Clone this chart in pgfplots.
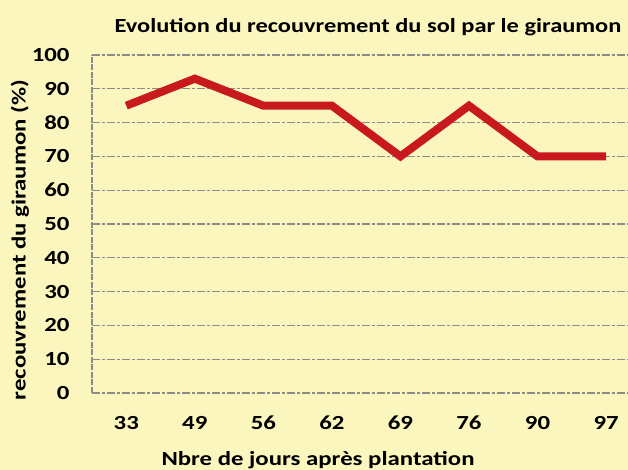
\documentclass[border=0pt]{standalone}
\usepackage{pgfplots}
\pgfplotsset{compat=1.18}
\usepackage{fontspec}
\setmainfont{Carlito}
\newfontfamily\wide[FakeStretch=1.24]{Carlito}
\newfontfamily\widetitle[FakeStretch=1.22]{Carlito}
\definecolor{bgyellow}{RGB}{251,246,190}
\definecolor{linered}{RGB}{200,26,30}
\definecolor{gridgray}{RGB}{140,140,140}
\begin{document}
\begin{tikzpicture}
\fill[bgyellow] (0,0) rectangle (628pt,470pt);
\path[use as bounding box] (0,0) rectangle (628pt,470pt);
\begin{scope}
\clip (0,0) rectangle (628pt,470pt);
\begin{axis}[
  at={(92pt,77pt)}, anchor=south west,
  scale only axis, width=536pt, height=338pt,
  xmin=-0.5, xmax=7.32, ymin=0, ymax=100,
  axis lines*=left,
  x axis line style={draw=none},
  y axis line style={draw=gridgray, line width=1.2pt, dash pattern=on 6pt off 1.5pt},
  xtick={0,...,7},
  xticklabels={33,49,56,62,69,76,90,97},
  ytick={0,10,...,100},
  major tick length=0pt,
  ymajorgrids,
  grid style={draw=gridgray, line width=1.3pt, dash pattern=on 8pt off 2pt on 3pt off 2pt},
  tick label style={font=\wide\fontsize{20}{22}\selectfont\bfseries},
  /pgf/number format/assume math mode=true,
  yticklabel style={anchor=east, xshift=-19pt},
  xticklabel style={anchor=center, yshift=-30pt},
  clip=false,
]
\addplot[linered, line width=8pt, line join=miter] coordinates {
  (0,85) (1,93) (2,85) (3,85) (4,70) (5,85) (6,70) (7,70)
};
\end{axis}
\end{scope}
\node[font=\widetitle\fontsize{20}{22}\selectfont\bfseries] at (368pt,443pt) {Evolution du recouvrement du sol par le giraumon};
\node[font=\wide\fontsize{20}{22}\selectfont\bfseries, rotate=90] at (20pt,230pt) {recouvrement du giraumon (\%)};
\node[font=\wide\fontsize{20}{22}\selectfont\bfseries] at (318pt,10pt) {Nbre de jours après plantation};
\end{tikzpicture}
\end{document}
